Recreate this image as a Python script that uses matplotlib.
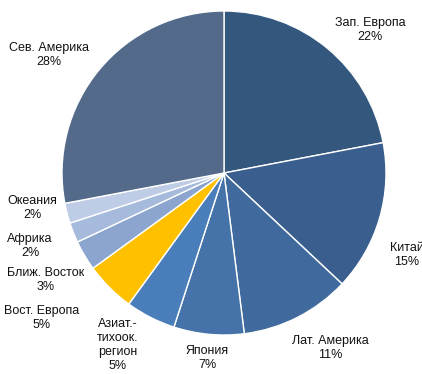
import matplotlib.pyplot as plt

regions = ["Зап. Европа", "Китай", "Лат. Америка", "Япония",
           "Азиат.-\nтихоок.\nрегион", "Вост. Европа", "Ближ. Восток",
           "Африка", "Океания", "Сев. Америка"]
shares = [22, 15, 11, 7, 5, 5, 3, 2, 2, 28]
colors = ["#34577e", "#3a5f8f", "#406a9d", "#4572a8", "#4a7ebb",
          "#ffc000", "#8ba5cf", "#a6badc", "#bfcce6", "#536a8a"]
# label anchor points, in pixels from the top-left corner
label_xy = [(370, 30), (407, 255), (330, 348), (207, 358), (118, 345),
            (42, 318), (46, 280), (30, 246), (32, 208), (49, 55)]

W, H = 422, 374
fig = plt.figure(figsize=(W / 100, H / 100), dpi=100)
ax = fig.add_axes([0, 0, 1, 1])

ax.pie(shares, colors=colors, startangle=90, counterclock=False,
       center=(224, H - 173), radius=162, frame=True,
       wedgeprops=dict(edgecolor="white", linewidth=1))
ax.set_xlim(0, W)
ax.set_ylim(0, H)
ax.set_aspect("equal")
ax.axis("off")

for name, val, (x, y) in zip(regions, shares, label_xy):
    ax.text(x, H - y, f"{name}\n{val}%", ha="center", va="center",
            fontsize=9, family="Liberation Sans", color="#111111",
            linespacing=1.25)

fig.savefig("out.png", dpi=100)
